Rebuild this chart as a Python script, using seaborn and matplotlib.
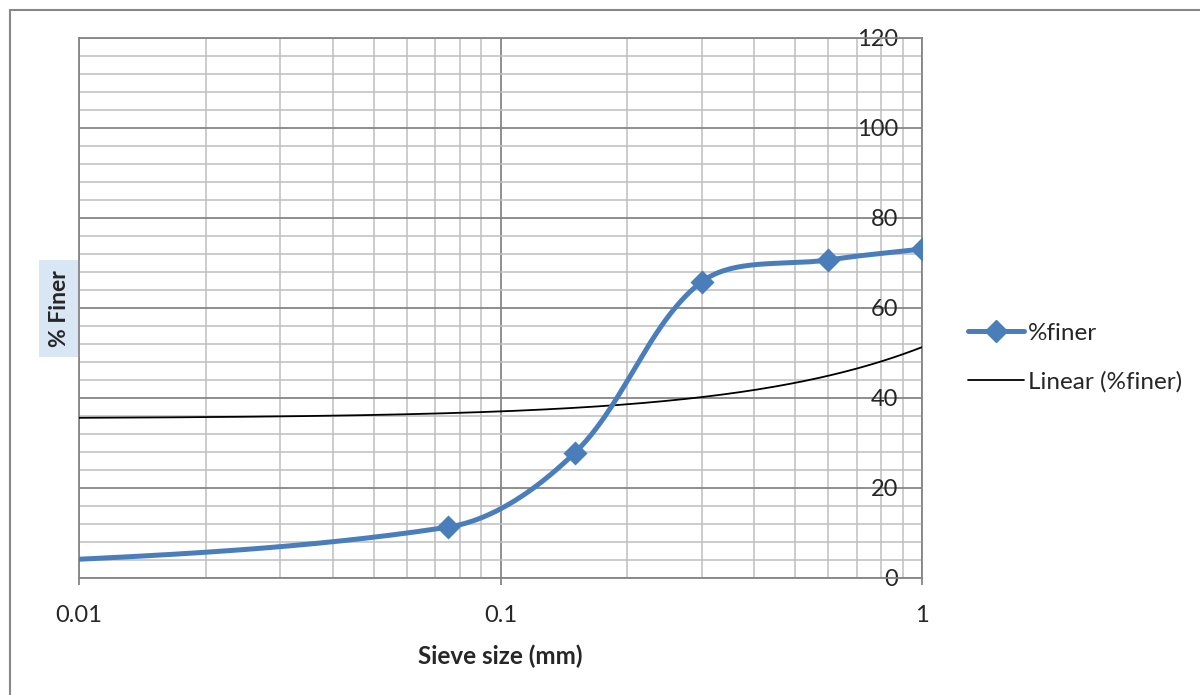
import numpy as np
import pandas as pd
import matplotlib
matplotlib.use("Agg")
import matplotlib.pyplot as plt
import seaborn as sns
from matplotlib.lines import Line2D
from matplotlib.patches import Rectangle
from matplotlib.ticker import LogLocator, MultipleLocator, NullFormatter

# Sieve analysis: particle size (mm) vs cumulative percent finer
sieve_mm = [0.002, 0.075, 0.15, 0.3, 0.6, 1.0]
pct_finer = [0.8, 11.3, 27.8, 65.8, 70.7, 73.1]

# Linear trendline of %finer against sieve size (y = a + b*x)
trend_intercept = 35.44
trend_slope = 15.86

x_ticks = [0.01, 0.1, 1]
x_tick_labels = ["0.01", "0.1", "1"]
y_ticks = [0, 20, 40, 60, 80, 100, 120]

series_name = "%finer"
trend_name = "Linear (%finer)"

BLUE = "#4a7ebb"
GRID_MAJOR = "#868686"
GRID_MINOR = "#bfbfbf"

# plot-area scale in pixels (per decade on x, per percent on y)
PX_PER_DECADE = 421.5
PX_PER_UNIT = 4.5


def smooth_curve(xs, ys, steps=80):
    """Bezier smoothing through the points, control points scaled by
    neighbouring segment lengths, computed in screen proportions."""
    px = np.log10(np.asarray(xs, dtype=float)) * PX_PER_DECADE
    py = np.asarray(ys, dtype=float) * PX_PER_UNIT
    pts = np.column_stack([px, py])
    n = len(pts)
    out = []
    for i in range(n - 1):
        p0 = pts[i - 1] if i > 0 else pts[i]
        p1 = pts[i]
        p2 = pts[i + 1]
        p3 = pts[i + 2] if i + 2 < n else pts[i + 1]
        d01 = np.linalg.norm(p1 - p0)
        d12 = np.linalg.norm(p2 - p1)
        d23 = np.linalg.norm(p3 - p2)
        c1 = p1 + (p2 - p0) / 3.0 * d12 / (d01 + d12)
        c2 = p2 - (p3 - p1) / 3.0 * d12 / (d12 + d23)
        t = np.linspace(0, 1, steps)[:, None]
        seg = ((1 - t) ** 3 * p1 + 3 * (1 - t) ** 2 * t * c1
               + 3 * (1 - t) * t ** 2 * c2 + t ** 3 * p2)
        out.append(seg if i == 0 else seg[1:])
    out = np.vstack(out)
    return 10 ** (out[:, 0] / PX_PER_DECADE), out[:, 1] / PX_PER_UNIT


sns.set_theme(style="white")
plt.rcParams["font.family"] = ["Lato", "DejaVu Sans"]

fig = plt.figure(figsize=(12, 6.95), dpi=100)
ax = fig.add_axes([79 / 1200, 1 - 578 / 695, (922 - 79) / 1200, (578 - 38) / 695])

# Trendline
tx = np.logspace(-2, 0, 400)
trend_df = pd.DataFrame({"x": tx, "y": trend_intercept + trend_slope * tx})
sns.lineplot(data=trend_df, x="x", y="y", ax=ax, color="black", lw=1.3,
             sort=False, zorder=3, legend=False)

# Smoothed gradation curve with diamond markers
sx, sy = smooth_curve(sieve_mm, pct_finer)
curve_df = pd.DataFrame({"x": sx, "y": sy})
sns.lineplot(data=curve_df, x="x", y="y", ax=ax, color=BLUE, lw=3.6,
             sort=False, zorder=4, legend=False)
pts_df = pd.DataFrame({"x": sieve_mm, "y": pct_finer})
sns.scatterplot(data=pts_df, x="x", y="y", ax=ax, marker="D", s=150,
                color=BLUE, edgecolor=BLUE, linewidth=0, zorder=5, legend=False)

ax.set_xscale("log")
ax.set_xlim(0.01, 1)
ax.set_ylim(0, 120)

ax.set_xticks(x_ticks)
ax.set_xticklabels(x_tick_labels)
ax.xaxis.set_minor_locator(LogLocator(base=10, subs=np.arange(2, 10)))
ax.xaxis.set_minor_formatter(NullFormatter())
ax.set_yticks(y_ticks)
ax.yaxis.set_minor_locator(MultipleLocator(4))

ax.set_axisbelow(True)
ax.grid(which="major", color=GRID_MAJOR, lw=1.3)
ax.grid(which="minor", color=GRID_MINOR, lw=1.1)
for side in ["left", "right", "top", "bottom"]:
    ax.spines[side].set_visible(True)
    ax.spines[side].set_color(GRID_MAJOR)
    ax.spines[side].set_linewidth(1.3)

ax.tick_params(axis="x", which="major", direction="out", length=5, width=1.3,
               color=GRID_MAJOR, labelsize=17, pad=14.5, bottom=True)
ax.tick_params(axis="x", which="minor", length=0)
ax.yaxis.tick_right()
ax.tick_params(axis="y", which="both", length=0, labelsize=17, pad=-17)
for lab in ax.get_yticklabels():
    lab.set_horizontalalignment("right")

ax.set_xlabel("Sieve size (mm)", fontsize=17.5, fontweight="bold", labelpad=13)
ax.yaxis.set_label_position("left")
ax.set_ylabel("% Finer", fontsize=16.5, fontweight="bold",
              bbox=dict(facecolor="#d9e6f4", edgecolor="none", pad=7.2))
ax.yaxis.label.set_verticalalignment("center")
ax.yaxis.label.set_horizontalalignment("center")
ax.yaxis.set_label_coords((59.5 - 79) / 843, (578 - 308.5) / 540)

handles = [
    Line2D([], [], color=BLUE, lw=3.6, marker="D", markersize=11),
    Line2D([], [], color="black", lw=1.3),
]
ax.legend(handles, [series_name, trend_name], loc="center left",
          bbox_to_anchor=(968 / 1200, 1 - 357.5 / 695),
          bbox_transform=fig.transFigure, frameon=False, fontsize=17.5,
          handlelength=2.3, handletextpad=0.15, labelspacing=1.12,
          borderpad=0, borderaxespad=0)

# Chart-area border
fig.add_artist(Rectangle((10 / 1200, -0.05), 1.2, 685 / 695 + 0.05,
                         transform=fig.transFigure, fill=False,
                         edgecolor="#878787", lw=1.5))

fig.savefig("out.png", dpi=100)
